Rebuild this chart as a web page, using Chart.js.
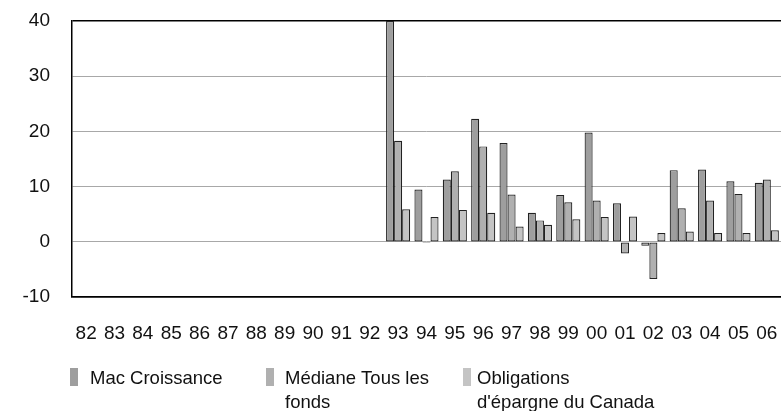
<!DOCTYPE html>
<html>
<head>
<meta charset="utf-8">
<script src="https://cdn.jsdelivr.net/npm/chart.js@4/dist/chart.umd.min.js"></script>
<style>
  html, body { margin: 0; padding: 0; background: #fff; overflow: hidden; }
  #wrap { width: 781px; height: 411px; position: relative; }
</style>
</head>
<body>
<div id="wrap"><canvas id="chart"></canvas></div>
<script>
// années (axe des x)
const years = ['82','83','84','85','86','87','88','89','90','91','92','93','94','95','96','97','98','99','00','01','02','03','04','05','06']

// rendements annuels (%), rien avant 93
const macCroissance = [null,null,null,null,null,null,null,null,null,null,null,40,9.5,11.3,22.3,17.9,5.3,8.5,19.8,7.0,-0.7,13.0,13.1,11.0,10.7]
const medianeFonds  = [null,null,null,null,null,null,null,null,null,null,null,18.3,-0.2,12.8,17.3,8.6,3.9,7.2,7.5,-2.1,-6.7,6.1,7.5,8.7,11.3]
const obligations   = [null,null,null,null,null,null,null,null,null,null,null,5.9,4.5,5.8,5.3,2.8,3.1,4.1,4.5,4.6,1.6,1.9,1.6,1.6,2.1]

const seriesNames = ['Mac Croissance', 'Médiane Tous les fonds', "Obligations d'épargne du Canada"]
// découpage des libellés de légende comme dans l'original
const legendLines = [['Mac Croissance'], ['Médiane Tous les', 'fonds'], ['Obligations', "d'épargne du Canada"]]
const yTicks = [-10, 0, 10, 20, 30, 40]

const colors = ['#9e9e9e', '#b0b0b0', '#c4c4c4']
const FONT = "'Liberation Sans', Arial, sans-serif"

// légende dessinée à la main (texte sur deux lignes)
const legendPlugin = {
  id: 'legendBas',
  afterDraw(chart) {
    const ctx = chart.ctx
    const markX = [70, 266, 463]
    const textX = [90, 285, 477]
    ctx.save()
    ctx.font = '18.5px ' + FONT
    ctx.textBaseline = 'middle'
    legendLines.forEach((lines, i) => {
      ctx.fillStyle = colors[i]
      ctx.fillRect(markX[i], 368, 8, 18)
      ctx.fillStyle = '#111'
      lines.forEach((l, j) => ctx.fillText(l, textX[i], 379 + j * 24))
    })
    ctx.restore()
  }
}

new Chart(document.getElementById('chart'), {
  type: 'bar',
  data: {
    labels: years,
    datasets: [
      { label: seriesNames[0], data: macCroissance, backgroundColor: colors[0] },
      { label: seriesNames[1], data: medianeFonds, backgroundColor: colors[1] },
      { label: seriesNames[2], data: obligations, backgroundColor: colors[2] }
    ].map(d => Object.assign(d, { borderColor: '#222', borderWidth: 1.2, borderSkipped: false, categoryPercentage: 0.85, barPercentage: 1.0 }))
  },
  options: {
    responsive: true,
    maintainAspectRatio: false,
    animation: false,
    layout: { padding: { top: 21, left: 19.5, right: -2, bottom: 63 } },
    plugins: {
      legend: { display: false },
      tooltip: { enabled: false }
    },
    scales: {
      x: {
        grid: { display: true, drawOnChartArea: false, drawTicks: true, tickLength: 22, tickColor: 'rgba(0,0,0,0)' },
        border: { color: '#000', width: 1.5 },
        ticks: { color: '#111', font: { family: FONT, size: 19 }, padding: 3, maxRotation: 0, autoSkip: false }
      },
      y: {
        min: -10,
        max: 40,
        afterBuildTicks: axis => { axis.ticks = yTicks.map(v => ({ value: v })) },
        grid: {
          drawTicks: true,
          tickLength: 19,
          tickColor: 'rgba(0,0,0,0)',
          color: c => (c.tick.value === 40 || c.tick.value === -10) ? '#000' : '#a8a8a8',
          lineWidth: c => (c.tick.value === 40 || c.tick.value === -10) ? 1.5 : 1
        },
        border: { color: '#000', width: 1.5 },
        ticks: { color: '#111', font: { family: FONT, size: 19 }, padding: 3 }
      }
    }
  },
  plugins: [legendPlugin]
})
</script>
</body>
</html>
